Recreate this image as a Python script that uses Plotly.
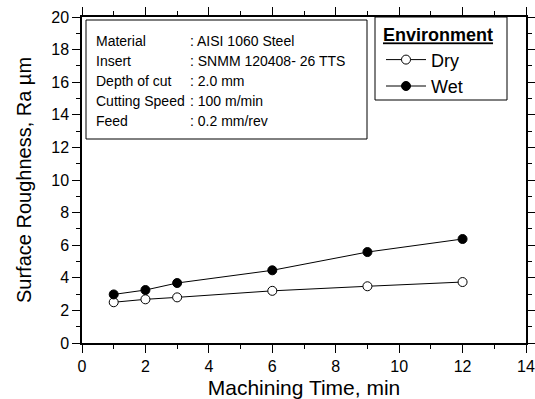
import plotly.graph_objects as go

time_min = [1, 2, 3, 6, 9, 12]
dry_ra = [2.5, 2.68, 2.8, 3.2, 3.48, 3.74]
wet_ra = [2.98, 3.25, 3.68, 4.46, 5.58, 6.38]

info_labels = ["Material", "Insert", "Depth of cut", "Cutting Speed", "Feed"]
info_values = [": AISI 1060 Steel", ": SNMM 120408- 26 TTS", ": 2.0 mm", ": 100 m/min", ": 0.2 mm/rev"]

W, H = 535, 399
L, R, T, B = 82, 9, 17, 56
pw, ph = W - L - R, H - T - B
FONT = "Arial, Liberation Sans, sans-serif"

def px(x):
    return (x - L) / pw

def py(y):
    return 1 - (y - T) / ph

fig = go.Figure()
fig.add_trace(go.Scatter(x=time_min, y=dry_ra, name="Dry", mode="lines+markers",
                         line=dict(color="black", width=1),
                         marker=dict(symbol="circle", size=9, color="white",
                                     line=dict(color="black", width=1))))
fig.add_trace(go.Scatter(x=time_min, y=wet_ra, name="Wet", mode="lines+markers",
                         line=dict(color="black", width=1),
                         marker=dict(symbol="circle", size=9, color="black",
                                     line=dict(color="black", width=1))))

axis_common = dict(showline=True, linecolor="black", linewidth=1.5, mirror="ticks",
                   ticks="outside", ticklen=8, tickwidth=1.2, tickcolor="black",
                   showgrid=False, zeroline=False, automargin=False,
                   tickfont=dict(family=FONT, size=16, color="black"))

fig.update_xaxes(range=[0, 14], dtick=2, tick0=0,
                 minor=dict(dtick=1, ticks="outside", ticklen=4, tickcolor="black", tickwidth=1),
                 title=dict(text="Machining Time, min", font=dict(family=FONT, size=21, color="black"), standoff=10),
                 **axis_common)
fig.update_yaxes(range=[0, 20], dtick=2, tick0=0,
                 minor=dict(dtick=1, ticks="outside", ticklen=4, tickcolor="black", tickwidth=1),
                 title=dict(text="Surface Roughness, Ra µm", font=dict(family=FONT, size=20, color="black"), standoff=14),
                 **axis_common)

# Info box
fig.add_shape(type="rect", xref="paper", yref="paper",
              x0=px(86), x1=px(367), y0=py(139), y1=py(20),
              line=dict(color="black", width=1), fillcolor="white", layer="above")
ys = [41, 61, 81, 101, 121]
for lab, val, yy in zip(info_labels, info_values, ys):
    fig.add_annotation(x=px(94), y=py(yy), xref="paper", yref="paper", text=lab,
                       showarrow=False, xanchor="left", yanchor="middle",
                       font=dict(family=FONT, size=14, color="black"))
    fig.add_annotation(x=px(188), y=py(yy), xref="paper", yref="paper", text=val,
                       showarrow=False, xanchor="left", yanchor="middle",
                       font=dict(family=FONT, size=14, color="black"))

# Legend frame
fig.add_shape(type="rect", xref="paper", yref="paper",
              x0=px(375), x1=px(507), y0=py(100), y1=py(17),
              line=dict(color="black", width=1), fillcolor="white", layer="above")

fig.update_layout(
    width=W, height=H, margin=dict(l=L, r=R, t=T, b=B),
    paper_bgcolor="white", plot_bgcolor="white",
    showlegend=True,
    legend=dict(x=px(381), y=py(18), xanchor="left", yanchor="top",
                borderwidth=0, bgcolor="rgba(0,0,0,0)",
                title=dict(text="<b><u>Environment</u></b>", side="top",
                           font=dict(family=FONT, size=18, color="black")),
                font=dict(family=FONT, size=18, color="black"),
                itemwidth=40, tracegroupgap=0),
)

fig.write_html("out.html")
